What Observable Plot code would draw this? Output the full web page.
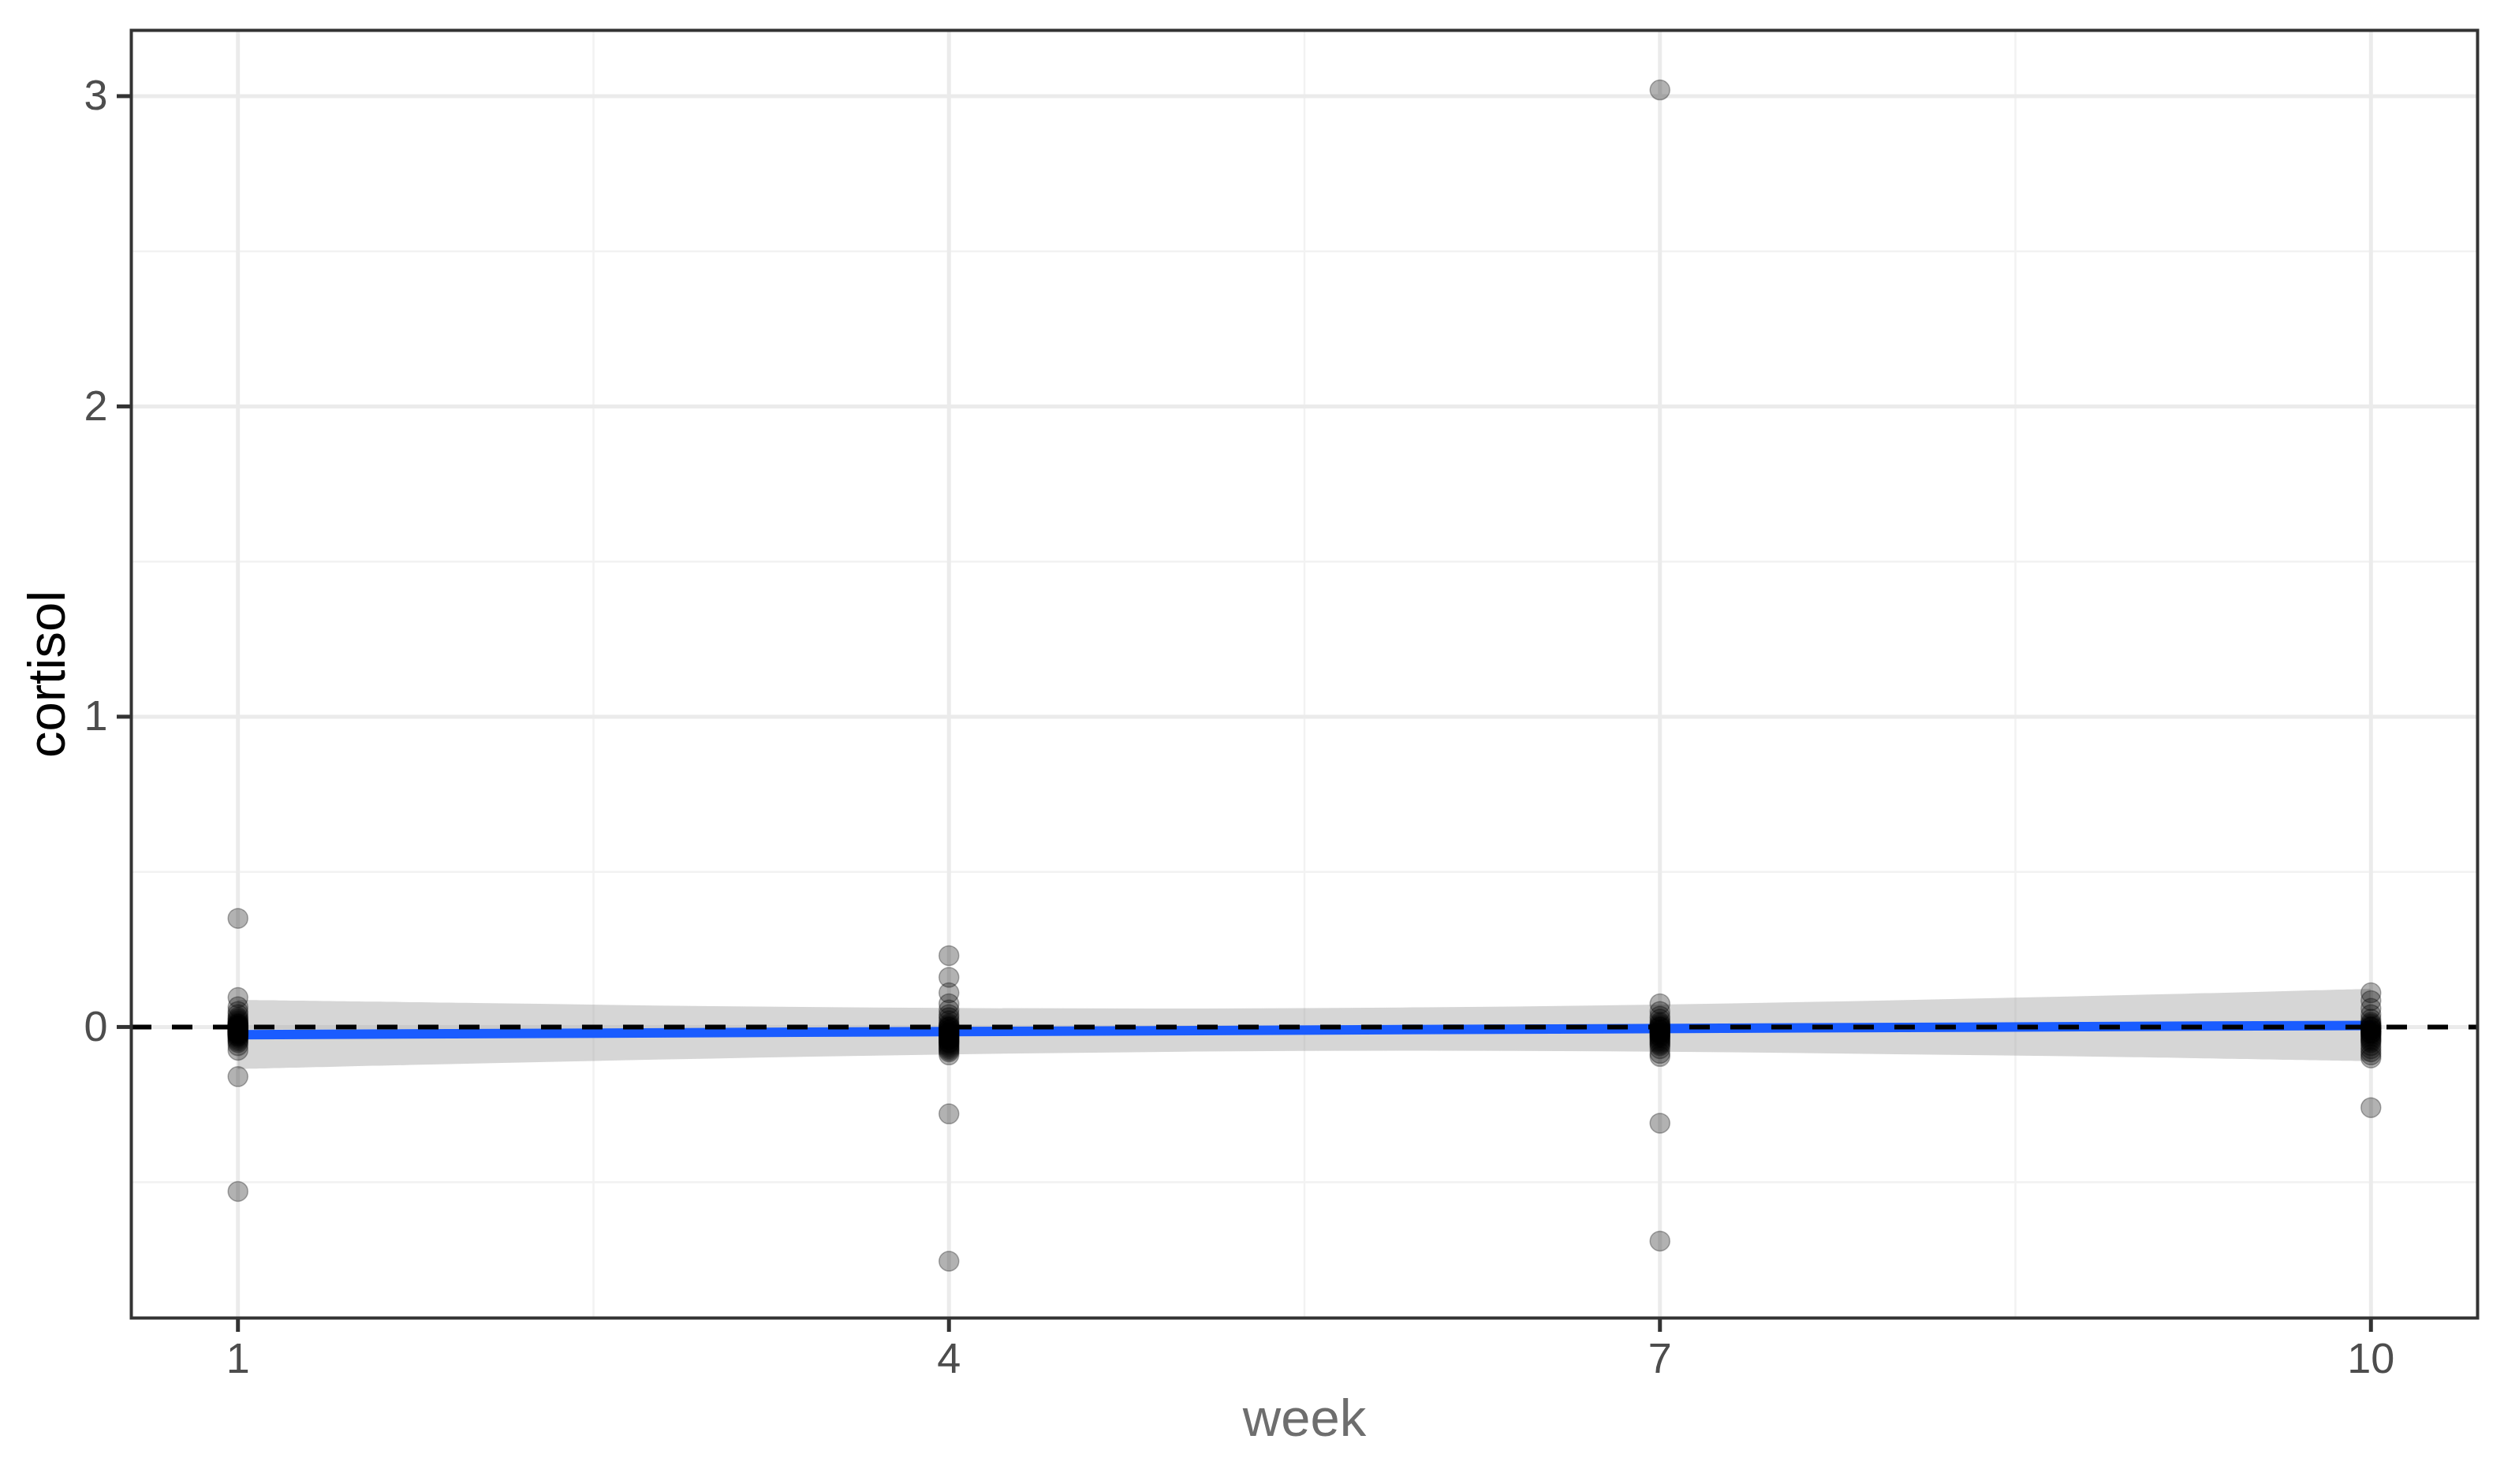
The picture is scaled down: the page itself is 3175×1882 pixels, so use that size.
<!DOCTYPE html>
<html>
<head>
<meta charset="utf-8">
<script src="https://cdn.jsdelivr.net/npm/d3@7"></script>
<script src="https://cdn.jsdelivr.net/npm/@observablehq/plot@0.6"></script>
<style>
  html, body { margin: 0; padding: 0; background: #ffffff; overflow: hidden; }
  #chart { width: 3175px; height: 1882px; }
</style>
</head>
<body>
<div id="chart"></div>
<script>
// ---- data ----
const weeks = [1, 4, 7, 10];
const cortisolWeek1 = [0.35, 0.095, 0.065, 0.05, 0.04, 0.03, 0.025, 0.02, 0.015, 0.01, 0.01, 0.005, 0.005, 0, 0, 0, -0.005, -0.005, -0.01, -0.01, -0.01, -0.015, -0.015, -0.02, -0.02, -0.02, -0.025, -0.025, -0.03, -0.03, -0.035, -0.04, -0.045, -0.05, -0.06, -0.075, -0.16, -0.53];
const cortisolWeek4 = [0.23, 0.16, 0.11, 0.075, 0.055, 0.04, 0.03, 0.02, 0.01, 0.005, 0, 0, -0.005, -0.01, -0.01, -0.015, -0.02, -0.02, -0.025, -0.03, -0.03, -0.035, -0.04, -0.04, -0.045, -0.05, -0.05, -0.055, -0.06, -0.065, -0.07, -0.075, -0.08, -0.09, -0.28, -0.755];
const cortisolWeek7 = [3.02, 0.075, 0.05, 0.035, 0.025, 0.015, 0.01, 0.005, 0, 0, -0.005, -0.01, -0.01, -0.015, -0.02, -0.02, -0.025, -0.03, -0.03, -0.035, -0.04, -0.045, -0.05, -0.055, -0.06, -0.07, -0.085, -0.095, -0.31, -0.69];
const cortisolWeek10 = [0.11, 0.085, 0.06, 0.04, 0.025, 0.015, 0.01, 0.005, 0, 0, -0.005, -0.01, -0.01, -0.015, -0.02, -0.02, -0.025, -0.03, -0.035, -0.04, -0.045, -0.05, -0.06, -0.07, -0.08, -0.09, -0.1, -0.26];

// fitted line (geom_smooth, lm) and its confidence band
const fitWeeks = [1, 10];
const fitValues = [-0.025, 0.005];
const bandWeeks = [1, 2, 3, 4, 5, 6, 7, 8, 9, 10];
const bandLower = [-0.137, -0.119, -0.103, -0.090, -0.081, -0.078, -0.081, -0.089, -0.099, -0.112];
const bandUpper = [0.086, 0.076, 0.066, 0.060, 0.058, 0.062, 0.071, 0.085, 0.102, 0.122];

const xTicks = [1, 4, 7, 10];
const xMinorTicks = [2.5, 5.5, 8.5];
const yTicks = [0, 1, 2, 3];
const yMinorTicks = [-0.5, 0.5, 1.5, 2.5];
const referenceLine = [0];
const xTitle = "week";
const yTitle = "cortisol";

// ---- build tables ----
const perWeek = [cortisolWeek1, cortisolWeek4, cortisolWeek7, cortisolWeek10];
const points = perWeek.flatMap((vals, i) => vals.map(v => ({week: weeks[i], cortisol: v})));
const fit = fitWeeks.map((w, i) => ({week: w, cortisol: fitValues[i]}));
const band = bandWeeks.map((w, i) => ({week: w, lo: bandLower[i], hi: bandUpper[i]}));

const font = "'Liberation Sans', Arial, Helvetica, sans-serif";

const chart = Plot.plot({
  width: 3175,
  height: 1882,
  marginLeft: 166,
  marginRight: 34,
  marginTop: 38,
  marginBottom: 211,
  style: {fontFamily: font, background: "#ffffff"},
  x: {domain: [0.55, 10.45]},
  y: {domain: [-0.938, 3.212]},
  marks: [
    Plot.gridX({ticks: xMinorTicks, stroke: "#f2f2f2", strokeOpacity: 1, strokeWidth: 2.5}),
    Plot.gridY({ticks: yMinorTicks, stroke: "#f2f2f2", strokeOpacity: 1, strokeWidth: 2.5}),
    Plot.gridX({ticks: xTicks, stroke: "#ebebeb", strokeOpacity: 1, strokeWidth: 5}),
    Plot.gridY({ticks: yTicks, stroke: "#ebebeb", strokeOpacity: 1, strokeWidth: 5}),
    Plot.areaY(band, {x: "week", y1: "lo", y2: "hi", fill: "#999999", fillOpacity: 0.4, curve: "catmull-rom"}),
    Plot.line(fit, {x: "week", y: "cortisol", stroke: "#1a5cff", strokeWidth: 12}),
    Plot.dot(points, {x: "week", y: "cortisol", r: 12.5, fill: "#000000", fillOpacity: 0.3, stroke: "#000000", strokeOpacity: 0.3, strokeWidth: 1.5}),
    Plot.ruleY(referenceLine, {stroke: "#000000", strokeWidth: 6, strokeDasharray: "26,26"}),
    Plot.frame({stroke: "#333333", strokeWidth: 4}),
    Plot.axisX({ticks: xTicks, tickFormat: d => String(d), tickSize: 18, tickPadding: 13, fontSize: 54, stroke: "#333333", strokeWidth: 5, fill: "#4d4d4d", label: null}),
    Plot.axisY({ticks: yTicks, tickFormat: d => String(d), tickSize: 18, tickPadding: 12, fontSize: 54, stroke: "#333333", strokeWidth: 5, fill: "#4d4d4d", label: null}),
    Plot.text([xTitle], {text: d => d, frameAnchor: "bottom", lineAnchor: "bottom", dy: 149, fontSize: 67, fill: "#6e6e6e"}),
    Plot.text([yTitle], {text: d => d, frameAnchor: "left", textAnchor: "middle", rotate: -90, dx: -106, fontSize: 67, fill: "#000000"})
  ]
});
document.getElementById("chart").appendChild(chart);
</script>
</body>
</html>
